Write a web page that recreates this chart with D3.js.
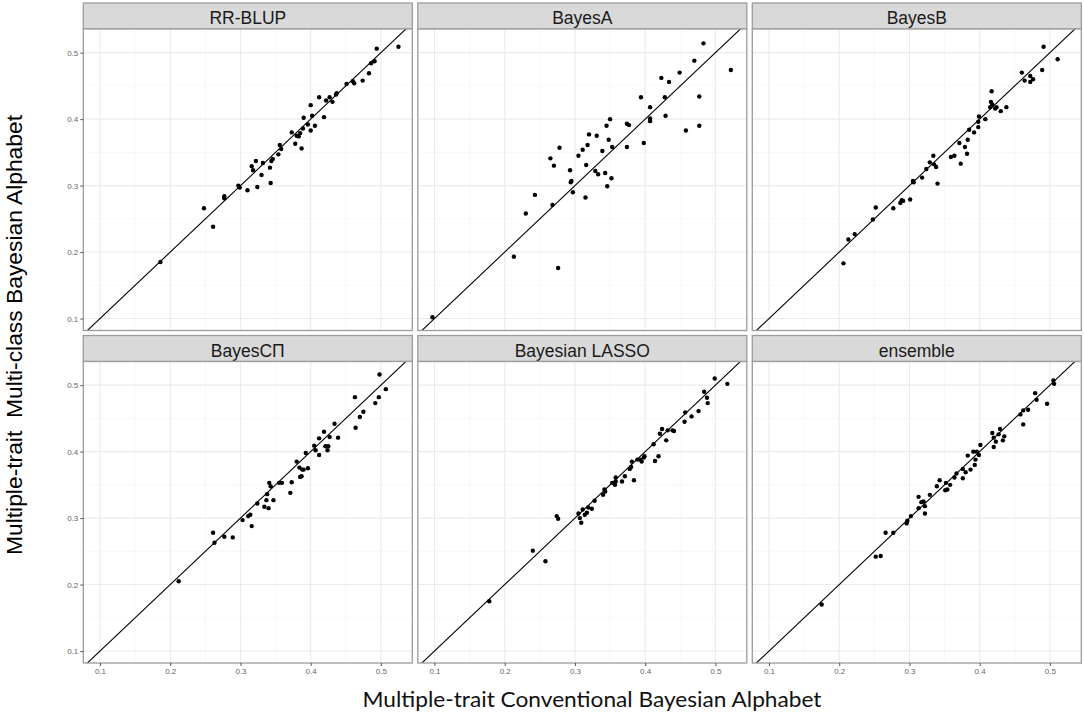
<!DOCTYPE html>
<html>
<head>
<meta charset="utf-8">
<script src="https://cdn.jsdelivr.net/npm/d3@7"></script>
<style>
  html, body { margin: 0; padding: 0; background: #fff; }
  #chart { width: 1084px; height: 716px; }
  .grid line { stroke: #ebebeb; }
  .grid line.minor { stroke: #f4f4f4; }
</style>
</head>
<body>
<div id="chart"></div>
<script>
(function(window, d3){
  'use strict';

  // facet titles, in panel order
  var methods = ['RR-BLUP', 'BayesA', 'BayesB', 'BayesC\u03A0', 'Bayesian LASSO', 'ensemble'];

  var xTicks = [0.1, 0.2, 0.3, 0.4, 0.5];
  var yTicks = [0.1, 0.2, 0.3, 0.4, 0.5];
  var minorTicks = [0.15, 0.25, 0.35, 0.45];

  // [conventional, multi-class] pairs
  var rrblup = [
    [0.186,0.185],[0.248,0.266],[0.261,0.238],[0.277,0.284],[0.277,0.281],[0.297,0.300],
    [0.299,0.297],[0.310,0.293],[0.316,0.329],[0.318,0.323],[0.322,0.337],[0.324,0.298],
    [0.330,0.316],[0.332,0.334],[0.342,0.327],[0.343,0.304],[0.344,0.337],[0.346,0.340],
    [0.354,0.347],[0.356,0.361],[0.358,0.355],[0.373,0.380],[0.378,0.363],[0.380,0.375],
    [0.383,0.374],[0.385,0.379],[0.387,0.356],[0.389,0.386],[0.390,0.402],[0.396,0.392],
    [0.400,0.421],[0.400,0.383],[0.402,0.405],[0.406,0.390],[0.412,0.433],[0.419,0.403],
    [0.422,0.428],[0.427,0.433],[0.431,0.426],[0.436,0.437],[0.437,0.439],[0.451,0.453],
    [0.460,0.457],[0.462,0.454],[0.474,0.458],[0.483,0.469],[0.486,0.484],[0.491,0.487],
    [0.494,0.506],[0.525,0.509]
  ];
  var bayesA = [
    [0.097,0.102],[0.213,0.193],[0.230,0.258],[0.243,0.286],[0.268,0.271],[0.276,0.176],
    [0.265,0.341],[0.270,0.330],[0.278,0.357],[0.293,0.323],[0.294,0.305],[0.295,0.307],
    [0.297,0.290],[0.305,0.345],[0.311,0.354],[0.315,0.282],[0.316,0.331],[0.318,0.361],
    [0.320,0.377],[0.329,0.322],[0.331,0.375],[0.333,0.317],[0.339,0.352],[0.343,0.319],
    [0.345,0.390],[0.346,0.299],[0.348,0.369],[0.350,0.400],[0.352,0.311],[0.353,0.358],
    [0.374,0.393],[0.374,0.358],[0.377,0.391],[0.394,0.433],[0.398,0.364],[0.407,0.418],
    [0.407,0.401],[0.407,0.397],[0.423,0.462],[0.428,0.433],[0.429,0.405],[0.434,0.456],
    [0.449,0.470],[0.458,0.383],[0.470,0.488],[0.477,0.434],[0.477,0.390],[0.483,0.514],
    [0.522,0.474]
  ];
  var bayesB = [
    [0.206,0.183],[0.213,0.219],[0.222,0.227],[0.248,0.249],[0.252,0.267],[0.277,0.266],
    [0.287,0.274],[0.289,0.278],[0.291,0.277],[0.301,0.279],[0.305,0.307],[0.306,0.305],
    [0.318,0.312],[0.324,0.325],[0.329,0.335],[0.334,0.345],[0.335,0.332],[0.338,0.328],
    [0.340,0.303],[0.359,0.343],[0.364,0.345],[0.371,0.364],[0.373,0.333],[0.379,0.358],
    [0.382,0.348],[0.383,0.369],[0.385,0.384],[0.392,0.380],[0.398,0.388],[0.398,0.396],
    [0.399,0.404],[0.408,0.400],[0.415,0.418],[0.416,0.426],[0.417,0.442],[0.418,0.422],
    [0.422,0.416],[0.424,0.418],[0.430,0.412],[0.438,0.418],[0.460,0.470],[0.464,0.458],
    [0.472,0.465],[0.472,0.456],[0.476,0.460],[0.489,0.474],[0.491,0.509],[0.511,0.490]
  ];
  var bayesCPi = [
    [0.212,0.205],[0.261,0.278],[0.263,0.263],[0.277,0.272],[0.289,0.271],[0.303,0.297],
    [0.311,0.303],[0.314,0.305],[0.316,0.288],[0.324,0.322],[0.334,0.317],[0.337,0.327],
    [0.338,0.336],[0.340,0.315],[0.341,0.353],[0.343,0.348],[0.347,0.327],[0.355,0.353],
    [0.359,0.353],[0.371,0.338],[0.373,0.354],[0.380,0.385],[0.384,0.376],[0.385,0.362],
    [0.387,0.363],[0.388,0.373],[0.390,0.373],[0.393,0.398],[0.396,0.375],[0.405,0.409],
    [0.407,0.402],[0.412,0.395],[0.412,0.420],[0.419,0.430],[0.421,0.408],[0.424,0.402],
    [0.425,0.408],[0.427,0.422],[0.434,0.442],[0.439,0.421],[0.463,0.482],[0.464,0.436],
    [0.470,0.452],[0.475,0.460],[0.492,0.473],[0.497,0.482],[0.498,0.516],[0.507,0.494]
  ];
  var lasso = [
    [0.178,0.175],[0.240,0.251],[0.258,0.235],[0.274,0.303],[0.276,0.299],[0.305,0.307],
    [0.307,0.300],[0.309,0.293],[0.311,0.313],[0.314,0.305],[0.317,0.308],[0.319,0.316],
    [0.324,0.314],[0.328,0.326],[0.340,0.335],[0.342,0.343],[0.343,0.340],[0.353,0.353],
    [0.357,0.350],[0.358,0.361],[0.358,0.355],[0.367,0.355],[0.371,0.363],[0.378,0.374],
    [0.380,0.377],[0.381,0.385],[0.384,0.357],[0.389,0.388],[0.393,0.388],[0.395,0.385],
    [0.398,0.391],[0.399,0.393],[0.412,0.411],[0.414,0.386],[0.419,0.393],[0.421,0.427],
    [0.424,0.434],[0.430,0.417],[0.432,0.432],[0.439,0.432],[0.441,0.431],[0.456,0.445],
    [0.457,0.459],[0.466,0.453],[0.476,0.461],[0.484,0.490],[0.488,0.481],[0.489,0.473],
    [0.499,0.510],[0.517,0.502]
  ];
  var ensemble = [
    [0.175,0.170],[0.252,0.242],[0.259,0.243],[0.266,0.278],[0.277,0.278],[0.296,0.292],
    [0.297,0.296],[0.302,0.303],[0.313,0.332],[0.313,0.315],[0.317,0.324],[0.320,0.325],
    [0.322,0.318],[0.322,0.307],[0.329,0.335],[0.339,0.348],[0.343,0.357],[0.351,0.342],
    [0.352,0.353],[0.354,0.343],[0.358,0.350],[0.364,0.361],[0.367,0.367],[0.376,0.374],
    [0.376,0.360],[0.380,0.369],[0.383,0.394],[0.387,0.373],[0.391,0.400],[0.393,0.380],
    [0.394,0.388],[0.396,0.400],[0.399,0.395],[0.401,0.410],[0.418,0.428],[0.420,0.407],
    [0.420,0.421],[0.423,0.415],[0.427,0.426],[0.429,0.434],[0.433,0.417],[0.435,0.423],
    [0.458,0.456],[0.462,0.462],[0.462,0.441],[0.469,0.463],[0.479,0.488],[0.481,0.478],
    [0.496,0.472],[0.505,0.507],[0.506,0.502]
  ];

  var panelData = [rrblup, bayesA, bayesB, bayesCPi, lasso, ensemble];

  var margin = {left: 83.3, top: 3};
  var panelW = 329, plotH = 301.5, stripH = 26;
  var colGap = 5.5, rowGap = 5;
  var border = '#9c9c9c';
  var sans = '"Liberation Sans", Arial, sans-serif';

  var x = d3.scaleLinear().domain([0.0762, 0.5447]).range([0, panelW]);
  var y = d3.scaleLinear().domain([0.082, 0.5356]).range([plotH, 0]);

  var svg = d3.select('#chart').append('svg')
    .attr('width', 1084)
    .attr('height', 716)
    .style('font-family', sans);

  svg.append('defs').append('clipPath').attr('id', 'plot-clip')
    .append('rect').attr('width', panelW).attr('height', plotH);

  var drawPanel = function(i) {
    var col = i % 3, row = Math.floor(i / 3);
    var gx = margin.left + col * (panelW + colGap);
    var gy = margin.top + row * (stripH + plotH + rowGap);
    var g = svg.append('g').attr('transform', 'translate(' + gx + ',' + gy + ')');

    // strip
    g.append('rect')
      .attr('width', panelW).attr('height', stripH)
      .attr('fill', '#d9d9d9').attr('stroke', border).attr('stroke-width', 1.3);
    g.append('text')
      .attr('x', panelW / 2).attr('y', stripH / 2 + 2)
      .attr('text-anchor', 'middle').attr('dominant-baseline', 'central')
      .attr('font-size', 17.5).attr('fill', '#1a1a1a')
      .style('font-family', sans)
      .text(methods[i]);

    var p = g.append('g').attr('transform', 'translate(0,' + stripH + ')');
    p.append('rect').attr('width', panelW).attr('height', plotH).attr('fill', '#fff');

    var grid = p.append('g').attr('class', 'grid');
    grid.selectAll('line.minor.vx').data(minorTicks).enter().append('line')
      .attr('class', 'minor vx')
      .attr('x1', x).attr('x2', x).attr('y1', 0).attr('y2', plotH)
      .attr('stroke-width', 0.6);
    grid.selectAll('line.minor.hy').data(minorTicks).enter().append('line')
      .attr('class', 'minor hy')
      .attr('y1', y).attr('y2', y).attr('x1', 0).attr('x2', panelW)
      .attr('stroke-width', 0.6);
    grid.selectAll('line.major.vx').data(xTicks).enter().append('line')
      .attr('class', 'major vx')
      .attr('x1', x).attr('x2', x).attr('y1', 0).attr('y2', plotH)
      .attr('stroke-width', 1.1);
    grid.selectAll('line.major.hy').data(yTicks).enter().append('line')
      .attr('class', 'major hy')
      .attr('y1', y).attr('y2', y).attr('x1', 0).attr('x2', panelW)
      .attr('stroke-width', 1.1);

    var inner = p.append('g').attr('clip-path', 'url(#plot-clip)');
    inner.append('line')
      .attr('x1', x(0)).attr('y1', y(0))
      .attr('x2', x(0.6)).attr('y2', y(0.6))
      .attr('stroke', '#000').attr('stroke-width', 1.1);

    inner.selectAll('circle')
      .data(panelData[i])
      .enter().append('circle')
      .attr('cx', function(d) { return x(d[0]); })
      .attr('cy', function(d) { return y(d[1]); })
      .attr('r', 2.2)
      .attr('fill', '#000');

    p.append('rect')
      .attr('width', panelW).attr('height', plotH)
      .attr('fill', 'none').attr('stroke', border).attr('stroke-width', 1.3);

    if (col === 0) {
      var ya = p.append('g').call(d3.axisLeft(y).tickValues(yTicks).tickSize(3).tickPadding(2).tickFormat(d3.format('.1f')));
      ya.select('.domain').remove();
      ya.selectAll('line').attr('stroke', '#555');
      ya.selectAll('text').attr('font-size', 8).attr('fill', '#666').style('font-family', sans);
    }
    if (row === 1) {
      var xa = p.append('g').attr('transform', 'translate(0,' + plotH + ')')
        .call(d3.axisBottom(x).tickValues(xTicks).tickSize(3).tickPadding(2).tickFormat(d3.format('.1f')));
      xa.select('.domain').remove();
      xa.selectAll('line').attr('stroke', '#555');
      xa.selectAll('text').attr('font-size', 8).attr('fill', '#666').style('font-family', sans);
    }
  };

  d3.range(methods.length).forEach(drawPanel);

  svg.append('text')
    .attr('x', 592).attr('y', 707)
    .attr('text-anchor', 'middle')
    .attr('font-size', 22)
    .attr('textLength', 459).attr('lengthAdjust', 'spacingAndGlyphs')
    .style('font-family', 'Lato, "Open Sans", sans-serif')
    .attr('fill', '#111')
    .text('Multiple-trait Conventional Bayesian Alphabet');

  svg.append('text')
    .attr('transform', 'translate(22,335) rotate(-90)')
    .attr('text-anchor', 'middle')
    .attr('font-size', 22)
    .attr('textLength', 440).attr('lengthAdjust', 'spacingAndGlyphs')
    .style('font-family', sans)
    .style('white-space', 'pre')
    .attr('fill', '#000')
    .text('Multiple-trait  Multi-class Bayesian Alphabet');

})(window, window.d3);
</script>
</body>
</html>
